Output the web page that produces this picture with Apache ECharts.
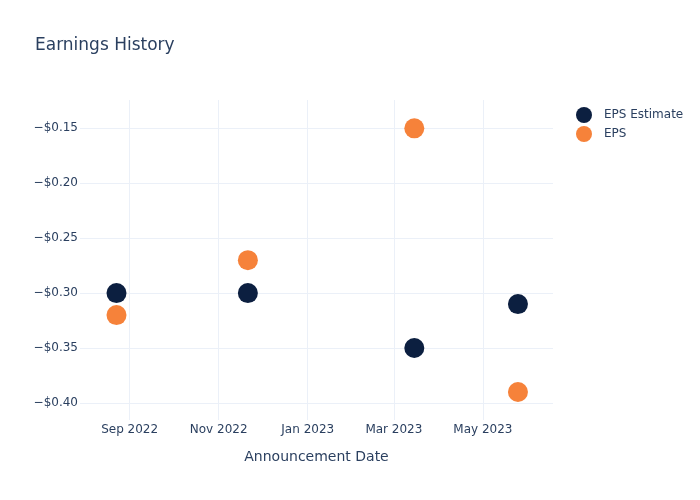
<!DOCTYPE html>
<html>
<head>
<meta charset="utf-8">
<script src="https://cdn.jsdelivr.net/npm/echarts@6/dist/echarts.min.js"></script>
<style>html,body{margin:0;padding:0;background:#fff;}#c{width:700px;height:500px;}</style>
</head>
<body>
<div id="c"></div>
<script>
const dates = ['2022-08-23', '2022-11-21', '2023-03-15', '2023-05-25'];
const epsEstimate = [-0.30, -0.30, -0.35, -0.31];
const eps = [-0.32, -0.27, -0.15, -0.39];
const xTickDates = ['2022-09-01', '2022-11-01', '2023-01-01', '2023-03-01', '2023-05-01'];
const xTickLabels = ['Sep 2022', 'Nov 2022', 'Jan 2023', 'Mar 2023', 'May 2023'];
const yTicks = [-0.40, -0.35, -0.30, -0.25, -0.20, -0.15];
const xRange = ['2022-07-29', '2023-06-18'];
const yRange = [-0.4155, -0.1242];

function ts(s) { const p = s.split('-').map(Number); return Date.UTC(p[0], p[1] - 1, p[2]); }
const xTickVals = xTickDates.map(ts);
const labelMap = {};
xTickVals.forEach((v, i) => { labelMap[v] = xTickLabels[i]; });

const font = 'DejaVu Sans';
const textColor = '#2a3f5f';
const gridColor = '#ebf0f8';

const chart = echarts.init(document.getElementById('c'), null, { renderer: 'canvas' });
chart.setOption({
  backgroundColor: '#ffffff',
  animation: false,
  title: {
    text: 'Earnings History',
    left: 30, top: 32,
    textStyle: { fontFamily: font, fontSize: 17, fontWeight: 'normal', color: textColor }
  },
  legend: {
    orient: 'vertical',
    left: 571, top: 102,
    itemWidth: 24, itemHeight: 16, itemGap: 3,
    icon: 'circle',
    data: ['EPS Estimate', 'EPS'],
    textStyle: { fontFamily: font, fontSize: 12, color: textColor, padding: [0, 0, 0, 3] }
  },
  grid: { left: 80, right: 147, top: 100, bottom: 80, containLabel: false },
  xAxis: {
    type: 'value',
    min: ts(xRange[0]), max: ts(xRange[1]),
    name: 'Announcement Date',
    nameLocation: 'middle', nameGap: 30,
    nameTextStyle: { fontFamily: font, fontSize: 14, color: textColor },
    axisLine: { show: false },
    axisTick: { show: false, customValues: xTickVals },
    axisLabel: {
      customValues: xTickVals,
      formatter: v => labelMap[v] || '',
      fontFamily: font, fontSize: 12, color: textColor, margin: 4
    },
    splitLine: { show: true, lineStyle: { color: gridColor, width: 1 } }
  },
  yAxis: {
    type: 'value',
    min: yRange[0], max: yRange[1],
    axisLine: { show: false },
    axisTick: { show: false, customValues: yTicks },
    axisLabel: {
      customValues: yTicks,
      formatter: v => '\u2212$' + Math.abs(v).toFixed(2),
      fontFamily: font, fontSize: 12, color: textColor, margin: 2
    },
    splitLine: { show: true, lineStyle: { color: gridColor, width: 1 } }
  },
  series: [
    {
      name: 'EPS Estimate', type: 'scatter', symbolSize: 20,
      itemStyle: { color: '#0c1f40', opacity: 1 },
      data: dates.map((d, i) => [ts(d), epsEstimate[i]])
    },
    {
      name: 'EPS', type: 'scatter', symbolSize: 20,
      itemStyle: { color: '#f6823a', opacity: 1 },
      data: dates.map((d, i) => [ts(d), eps[i]])
    }
  ]
});
</script>
</body>
</html>
